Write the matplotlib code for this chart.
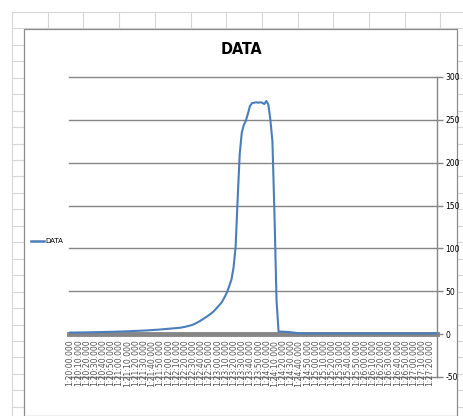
import matplotlib
matplotlib.use("Agg")
import matplotlib.pyplot as plt
from matplotlib.lines import Line2D
from matplotlib.patches import Rectangle

#======================================================================#
## data
values = [
    1.8, 1.8, 1.9, 1.9, 1.9, 2.0, 2.0, 2.0, 2.1, 2.1,
    2.2, 2.2, 2.3, 2.3, 2.4, 2.4, 2.5, 2.5, 2.6, 2.6,
    2.7, 2.8, 2.8, 2.9, 3.0, 3.0, 3.1, 3.2, 3.3, 3.4,
    3.5, 3.6, 3.7, 3.8, 3.9, 4.0, 4.1, 4.3, 4.4, 4.6,
    4.7, 4.9, 5.0, 5.2, 5.4, 5.6, 5.8, 6.0, 6.2, 6.4,
    6.6, 6.8, 7.0, 7.2, 7.5, 7.9, 8.4, 9.0, 9.6, 10.2,
    11.0, 12.0, 13.2, 14.5, 16.0, 17.5, 19.0, 20.6, 22.3, 24.1,
    26.0, 28.5, 31.2, 34.0, 36.5, 40.5, 45.0, 50.0, 57.0, 64.0,
    78.0, 102.0, 158.0, 210.0, 235.0, 244.0, 249.0, 257.0, 266.0, 269.5,
    270.0, 270.5, 270.0, 270.5, 270.0, 268.5, 272.0, 268.0, 250.0, 225.0,
    140.0, 40.0, 3.0, 3.0, 2.9, 2.8, 2.7, 2.5, 2.2, 1.8,
    1.5, 1.2, 1.0, 0.9, 0.9, 0.9, 0.9, 0.9, 0.9, 0.9,
] + [0.9] * 60
n_cat = len(values)
categories = list(range(n_cat))
# time stamps on the category axis, every 2.5 s
cat_labels = ["1:%02d:%06.3f" % ((4800 + 2.5 * i) // 60 % 60, (4800 + 2.5 * i) % 60)
              for i in categories]
label_step = 4
y_ticks = [-50, 0, 50, 100, 150, 200, 250, 300]
series_name = "DATA"
title = "DATA"

#======================================================================#
## plot parameters
W, H = 463, 416
blue = '#4a7ebb'
axis_gray = '#868686'
sheet_gray = '#d6d6d6'
narrow = ['Liberation Sans Narrow', 'DejaVu Sans']

def fx(x):
    return x / W

def fy(y):
    return 1 - y / H

fig = plt.figure(figsize=(W / 100, H / 100), dpi=100)
fig.patch.set_facecolor('white')

# spreadsheet cell grid behind the chart
x = 12.0
while x < W:
    fig.add_artist(Line2D([fx(x)] * 2, [fy(12), 0], transform=fig.transFigure,
                          color=sheet_gray, lw=0.8, zorder=-3))
    x += 35.7
y = 12.0
while y < H:
    fig.add_artist(Line2D([fx(12), 1], [fy(y)] * 2, transform=fig.transFigure,
                          color=sheet_gray, lw=0.8, zorder=-3))
    y += 16.45

# chart area
fig.add_artist(Rectangle((fx(24), 0), fx(457) - fx(24), fy(29), transform=fig.transFigure,
                         facecolor='white', edgecolor='#8c8c8c', lw=0.9, zorder=-2))

ax = fig.add_axes([fx(69), fy(377), fx(437) - fx(69), fy(77) - fy(377)])
ax.set_facecolor('none')
ax.plot(categories, values, color=blue, linewidth=1.5, zorder=4, clip_on=False)
ax.set_xlim(-0.5, n_cat - 0.5)
ax.set_ylim(-50, 300)

for t in y_ticks:
    if t != 0:
        ax.axhline(t, color=axis_gray, lw=1.0, zorder=1, clip_on=False)

for s in ['left', 'top']:
    ax.spines[s].set_visible(False)
ax.spines['right'].set_color(axis_gray)
ax.spines['right'].set_linewidth(1.0)
ax.spines['bottom'].set_position(('data', 0))
ax.spines['bottom'].set_color(axis_gray)
ax.spines['bottom'].set_linewidth(3.5)
ax.spines['bottom'].set_zorder(3)

ax.yaxis.tick_right()
ax.set_yticks(y_ticks)
ax.set_yticklabels([str(t) for t in y_ticks], family=narrow, fontsize=5.5)
ax.tick_params(axis='y', direction='out', length=4, width=1.0, color=axis_gray, pad=2)

ax.set_xticks(categories[::label_step])
ax.set_xticklabels(cat_labels[::label_step], rotation=90, family=narrow, fontsize=5.6,
                   color='#555555')
ax.tick_params(axis='x', length=0, pad=4)

fig.text(fx(241), fy(50), title, ha='center', va='center', family=narrow,
         fontsize=11.5, fontweight='bold', fontstretch='condensed')

# legend on the left
fig.add_artist(Line2D([fx(31), fx(44)], [fy(241)] * 2, transform=fig.transFigure,
                      color=blue, lw=1.8))
fig.text(fx(45), fy(241), series_name, ha='left', va='center', family=narrow, fontsize=5)

plt.savefig("out.png", dpi=100)
